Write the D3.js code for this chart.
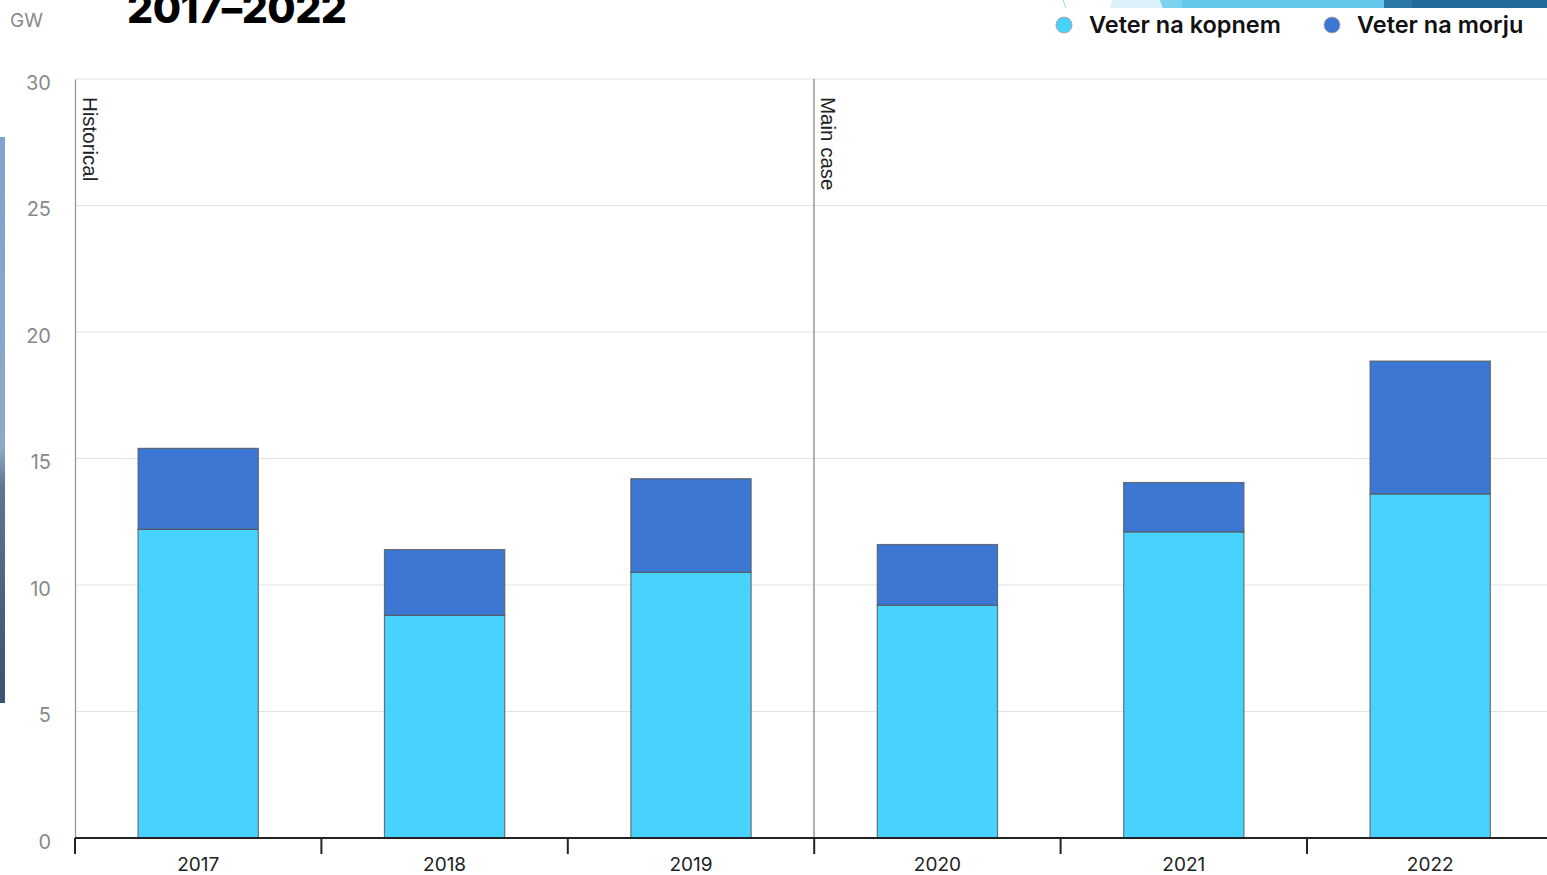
<!DOCTYPE html>
<html><head><meta charset="utf-8">
<script src="https://cdn.jsdelivr.net/npm/d3@7"></script>
<style>
html,body{margin:0;padding:0;background:#fff;overflow:hidden}
svg{display:block}
</style></head>
<body>
<svg id="chart" width="1547" height="875"></svg>
<script>
const years = ["2017","2018","2019","2020","2021","2022"];
const onshore = [12.2, 8.8, 10.5, 9.2, 12.1, 13.6];
const offshore = [3.2, 2.6, 3.7, 2.4, 1.95, 5.25];
const seriesNames = ["Veter na kopnem","Veter na morju"];
const yTicks = [0,5,10,15,20,25,30];
const phaseLabels = ["Historical","Main case"];

const colors = ["#48d2fe","#3c78d3"];
const svg = d3.select("#chart");
const W = 1547, H = 875;
const x = d3.scaleBand().domain(years).range([75, 75 + 6*246.4]).paddingInner(0.512).paddingOuter(0.256);
const y = d3.scaleLinear().domain([0,30]).range([838, 79]);

// decorative elements
const defs = svg.append("defs");
const lg = defs.append("linearGradient").attr("id","lg").attr("x1",0).attr("y1",0).attr("x2",0).attr("y2",1);
lg.append("stop").attr("offset","0").attr("stop-color","#7fa3cf");
lg.append("stop").attr("offset","0.55").attr("stop-color","#8ea9c8");
lg.append("stop").attr("offset","0.62").attr("stop-color","#5d7493");
lg.append("stop").attr("offset","1").attr("stop-color","#3d5170");
svg.append("rect").attr("x",0).attr("y",137).attr("width",5).attr("height",566).attr("fill","url(#lg)");
svg.append("polygon").attr("points","1112,0 1160,0 1163,8 1110,8").attr("fill","#def1fa");
svg.append("polygon").attr("points","1160,0 1384,0 1384,8 1182,8 1163,8").attr("fill","#62c9ec");
svg.append("polygon").attr("points","1160,0 1182,0 1182,8 1163,8").attr("fill","#7dd3ef");
svg.append("rect").attr("x",1384).attr("y",0).attr("width",28).attr("height",8).attr("fill","#2a77a8");
svg.append("rect").attr("x",1412).attr("y",0).attr("width",135).attr("height",8).attr("fill","#236a9c");
svg.append("line").attr("x1",1063).attr("y1",0).attr("x2",1066).attr("y2",8).attr("stroke","#8fd9f2").attr("stroke-width",1);

// gridlines
svg.append("g").selectAll("line").data(yTicks.filter(d=>d>0)).join("line")
  .attr("x1",75).attr("x2",W).attr("y1",d=>y(d)).attr("y2",d=>y(d))
  .attr("stroke","#e3e3e3").attr("stroke-width",1.2);

// y axis labels
const yAxis = d3.axisLeft(y).tickValues(yTicks).tickSize(0).tickPadding(24);
const yg = svg.append("g").attr("transform","translate(75,0)").call(yAxis);
yg.select(".domain").attr("stroke","#999").attr("stroke-width",1.3);
yg.selectAll("text").attr("font-family","Inter, Roboto, sans-serif").attr("font-size",20)
  .attr("fill","#8a8a8a").attr("dy","0.5em");

// phase divider
svg.append("line").attr("x1",814).attr("x2",814).attr("y1",79).attr("y2",838).attr("stroke","#888").attr("stroke-width",1.3);
svg.append("text").attr("transform","translate(83,97) rotate(90)").text(phaseLabels[0])
  .attr("font-family","Liberation Sans, Arial, sans-serif").attr("font-size",20.5).attr("fill","#222");
svg.append("text").attr("transform","translate(821,97) rotate(90)").text(phaseLabels[1])
  .attr("font-family","Liberation Sans, Arial, sans-serif").attr("font-size",20.5).attr("fill","#222");

// stacked bars
const data = years.map((yr,i)=>({year:yr, s0:onshore[i], s1:offshore[i]}));
const stack = d3.stack().keys(["s0","s1"])(data);
svg.append("g").selectAll("g").data(stack).join("g")
  .attr("fill",(d,i)=>colors[i])
  .selectAll("rect").data(d=>d).join("rect")
  .attr("x",d=>x(d.data.year)).attr("width",x.bandwidth())
  .attr("y",d=>y(d[1])).attr("height",d=>y(d[0])-y(d[1]))
  .attr("stroke","#555").attr("stroke-width",1.2).attr("stroke-opacity",0.8);

// x axis
const xg = svg.append("g").attr("transform","translate(0,838)");
xg.append("line").attr("x1",75).attr("x2",W).attr("y1",0).attr("y2",0).attr("stroke","#222").attr("stroke-width",2);
const tickXs = d3.range(7).map(i=>75+i*246.4);
xg.selectAll("line.t").data(tickXs).join("line").attr("class","t")
  .attr("x1",d=>d).attr("x2",d=>d).attr("y1",0).attr("y2",16).attr("stroke","#222").attr("stroke-width",2);
xg.selectAll("text").data(years).join("text")
  .attr("x",d=>x(d)+x.bandwidth()/2).attr("y",33).attr("text-anchor","middle")
  .attr("font-family","Inter, Roboto, sans-serif").attr("font-size",19).attr("fill","#222").text(d=>d);

// unit + title
svg.append("text").attr("x",10).attr("y",27).text("GW")
  .attr("font-family","Inter, Roboto, sans-serif").attr("font-size",19).attr("fill","#8a8a8a");
svg.append("text").attr("x",127).attr("y",23).text("2017–2022")
  .attr("font-family","Inter, Roboto, sans-serif").attr("font-weight",800).attr("font-size",41).attr("fill","#000")
  .attr("letter-spacing",-0.5);

// legend
const legX = [1064, 1332];
const lg2 = svg.append("g");
seriesNames.forEach((n,i)=>{
  lg2.append("circle").attr("cx",legX[i]).attr("cy",25).attr("r",8).attr("fill",colors[i]).attr("stroke","#aaa").attr("stroke-width",1);
  lg2.append("text").attr("x",legX[i]+25).attr("y",33).text(n)
    .attr("font-family","Inter, Roboto, sans-serif").attr("font-weight",600).attr("font-size",23.5).attr("fill","#111");
});
</script>
</body></html>
